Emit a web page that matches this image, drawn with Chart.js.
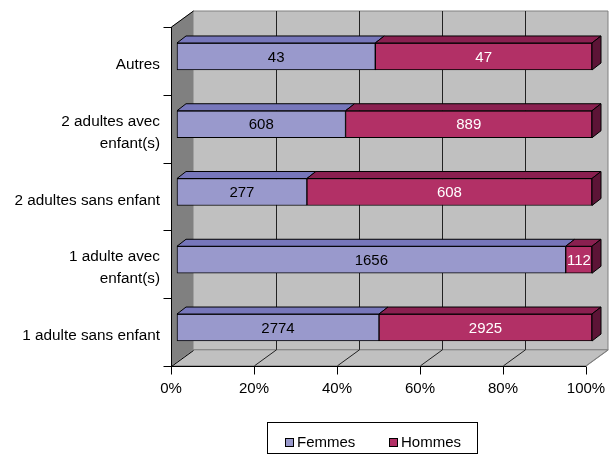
<!DOCTYPE html>
<html>
<head>
<meta charset="utf-8">
<script src="https://cdn.jsdelivr.net/npm/chart.js@4/dist/chart.umd.min.js"></script>
<style>
  html, body { margin: 0; padding: 0; background: #fff; }
  #wrap { width: 613px; height: 455px; position: relative; }
</style>
</head>
<body>
<div id="wrap"><canvas id="c" width="613" height="455"></canvas></div>
<script>
// Household types (top to bottom) and head counts per sex
const categories = [
  'Autres',
  ['2 adultes avec', 'enfant(s)'],
  '2 adultes sans enfant',
  ['1 adulte avec', 'enfant(s)'],
  '1 adulte sans enfant'
];
const femmes = [43, 608, 277, 1656, 2774];
const hommes = [47, 889, 608, 112, 2925];
const seriesNames = ['Femmes', 'Hommes'];
const percentTicks = [0, 20, 40, 60, 80, 100];

// Share of each sex within a household type, for the 100 % stacking
const share = (a, b) => a.map((v, i) => v / (a[i] + b[i]) * 100);
const femmesPct = share(femmes, hommes);
const hommesPct = share(hommes, femmes);

const FONT = '"Liberation Sans", Arial, sans-serif';

// 3D look: front plane of the box relative to the bars, box depth and bar depth
const FRONT = { x: -6, y: 4.4 };
const DEPTH = { x: 22, y: -16 };
const BAR_DEPTH = { x: 9, y: -7 };

const faces = [
  { front: '#9999CC', top: '#7777BB', side: '#555599', text: '#000000' },
  { front: '#B23066', top: '#8A2050', side: '#5C1436', text: '#FFFFFF' }
];

function poly(ctx, pts, fill, stroke) {
  ctx.beginPath();
  ctx.moveTo(pts[0][0], pts[0][1]);
  for (let i = 1; i < pts.length; i++) ctx.lineTo(pts[i][0], pts[i][1]);
  ctx.closePath();
  if (fill) { ctx.fillStyle = fill; ctx.fill(); }
  if (stroke) { ctx.strokeStyle = stroke; ctx.lineWidth = 1; ctx.stroke(); }
}
function line(ctx, x0, y0, x1, y1, color) {
  ctx.beginPath();
  ctx.moveTo(x0, y0);
  ctx.lineTo(x1, y1);
  ctx.strokeStyle = color;
  ctx.lineWidth = 1;
  ctx.stroke();
}

// Walls, floor, grid and axis lines of the 3D box
const boxPlugin = {
  id: 'box3d',
  beforeDatasetsDraw(chart) {
    const ctx = chart.ctx;
    const xs = chart.scales.x, ys = chart.scales.y;
    const px = v => xs.getPixelForValue(v) + FRONT.x;
    const x0 = px(0), x1 = px(100);
    const y0 = ys.top + FRONT.y, y1 = ys.bottom + FRONT.y;
    const dx = DEPTH.x, dy = DEPTH.y;
    ctx.save();
    // left wall
    poly(ctx, [[x0, y0], [x0 + dx, y0 + dy], [x0 + dx, y1 + dy], [x0, y1]], '#808080');
    // back wall
    poly(ctx, [[x0 + dx, y0 + dy], [x1 + dx, y0 + dy], [x1 + dx, y1 + dy], [x0 + dx, y1 + dy]], '#C0C0C0', '#808080');
    // floor
    poly(ctx, [[x0, y1], [x1, y1], [x1 + dx, y1 + dy], [x0 + dx, y1 + dy]], '#C0C0C0', '#808080');
    // grid on back wall and floor
    percentTicks.forEach(v => {
      const x = Math.round(px(v)) + 0.5;
      if (v > 0 && v < 100) line(ctx, x + dx, y0 + dy, x + dx, y1 + dy, '#222222');
      if (v > 0) line(ctx, x, y1, x + dx, y1 + dy, v < 100 ? '#222222' : '#808080');
    });
    // axis edges
    const ax = Math.round(x0) + 0.5, by = Math.round(y1) + 0.5;
    line(ctx, ax, y0, ax, by, '#000');
    line(ctx, ax, by, x1, by, '#000');
    line(ctx, ax, y0, ax + dx, y0 + dy, '#000');
    line(ctx, ax, by, ax + dx, by + dy, '#000');
    // category tick marks
    const band = (ys.bottom - ys.top) / categories.length;
    for (let k = 0; k <= categories.length; k++) {
      const y = Math.round(ys.top + k * band + FRONT.y) + 0.5;
      line(ctx, ax - 8, y, ax, y, '#000');
    }
    // percentage tick marks
    percentTicks.forEach(v => {
      const x = Math.round(px(v)) + 0.5;
      line(ctx, x, by, x, by + 8, '#000');
    });
    ctx.restore();
  },
  afterDatasetsDraw(chart) {
    const ctx = chart.ctx;
    const bx = BAR_DEPTH.x, by = BAR_DEPTH.y;
    const last = chart.data.datasets.length - 1;
    ctx.save();
    chart.data.datasets.forEach((ds, di) => {
      const meta = chart.getDatasetMeta(di);
      meta.data.forEach(el => {
        const p = el.getProps(['x', 'y', 'base', 'height'], true);
        const l = Math.min(p.x, p.base), r = Math.max(p.x, p.base);
        const t = p.y - p.height / 2, b = p.y + p.height / 2;
        poly(ctx, [[l, t], [r, t], [r + bx, t + by], [l + bx, t + by]], faces[di].top, '#000');
        if (di === last) {
          poly(ctx, [[r, t], [r + bx, t + by], [r + bx, b + by], [r, b]], faces[di].side, '#000');
        }
      });
    });
    // value labels
    ctx.font = '15px ' + FONT;
    ctx.textAlign = 'center';
    ctx.textBaseline = 'middle';
    const raw = [femmes, hommes];
    chart.data.datasets.forEach((ds, di) => {
      const meta = chart.getDatasetMeta(di);
      meta.data.forEach((el, i) => {
        const p = el.getProps(['x', 'y', 'base'], true);
        ctx.fillStyle = faces[di].text;
        ctx.fillText(String(raw[di][i]), (p.x + p.base) / 2, p.y + 1);
      });
    });
    ctx.restore();
  },
  afterDraw(chart) {
    // framed legend under the chart
    const ctx = chart.ctx;
    ctx.save();
    ctx.strokeStyle = '#000';
    ctx.lineWidth = 1;
    ctx.strokeRect(267.5, 422.5, 210, 31);
    ctx.font = '15px ' + FONT;
    ctx.textBaseline = 'middle';
    ctx.textAlign = 'left';
    const starts = [285, 389];
    chart.data.datasets.forEach((ds, di) => {
      const x = starts[di];
      ctx.fillStyle = ds.backgroundColor;
      ctx.fillRect(x + 0.5, 438.5, 8, 8);
      ctx.strokeRect(x + 0.5, 438.5, 8, 8);
      ctx.fillStyle = '#000';
      ctx.fillText(ds.label, x + 12, 443);
    });
    ctx.restore();
  }
};

new Chart(document.getElementById('c'), {
  type: 'bar',
  data: {
    labels: categories,
    datasets: [
      { label: seriesNames[0], data: femmesPct, backgroundColor: faces[0].front, borderColor: '#000', borderWidth: 1, borderSkipped: false, barThickness: 27, clip: false },
      { label: seriesNames[1], data: hommesPct, backgroundColor: faces[1].front, borderColor: '#000', borderWidth: 1, borderSkipped: false, barThickness: 27, clip: false }
    ]
  },
  options: {
    indexAxis: 'y',
    responsive: false,
    animation: false,
    events: [],
    layout: { padding: { top: 22.6, right: 21, left: 0, bottom: 0 } },
    plugins: { legend: { display: false }, tooltip: { enabled: false } },
    scales: {
      x: {
        stacked: true,
        min: 0,
        max: 100,
        grid: { display: false },
        border: { display: false },
        afterFit(scale) {
          scale.height = 93.6;
          scale.paddingLeft = 0;
          scale.paddingRight = 0;
        },
        afterBuildTicks(scale) { scale.ticks = percentTicks.map(v => ({ value: v })); },
        ticks: {
          callback: v => v + '%',
          color: '#000',
          font: { family: FONT, size: 15 },
          padding: 10,
          labelOffset: FRONT.x,
          maxRotation: 0,
          autoSkip: false
        }
      },
      y: {
        stacked: true,
        grid: { display: false },
        border: { display: false },
        afterFit(scale) {
          scale.width = 177;
          scale.paddingTop = 0;
          scale.paddingBottom = 0;
        },
        ticks: {
          color: '#000',
          font: { family: FONT, size: 15.3, lineHeight: 1.45 },
          padding: 9,
          labelOffset: 8.4,
          autoSkip: false
        }
      }
    }
  },
  plugins: [boxPlugin]
});
</script>
</body>
</html>
